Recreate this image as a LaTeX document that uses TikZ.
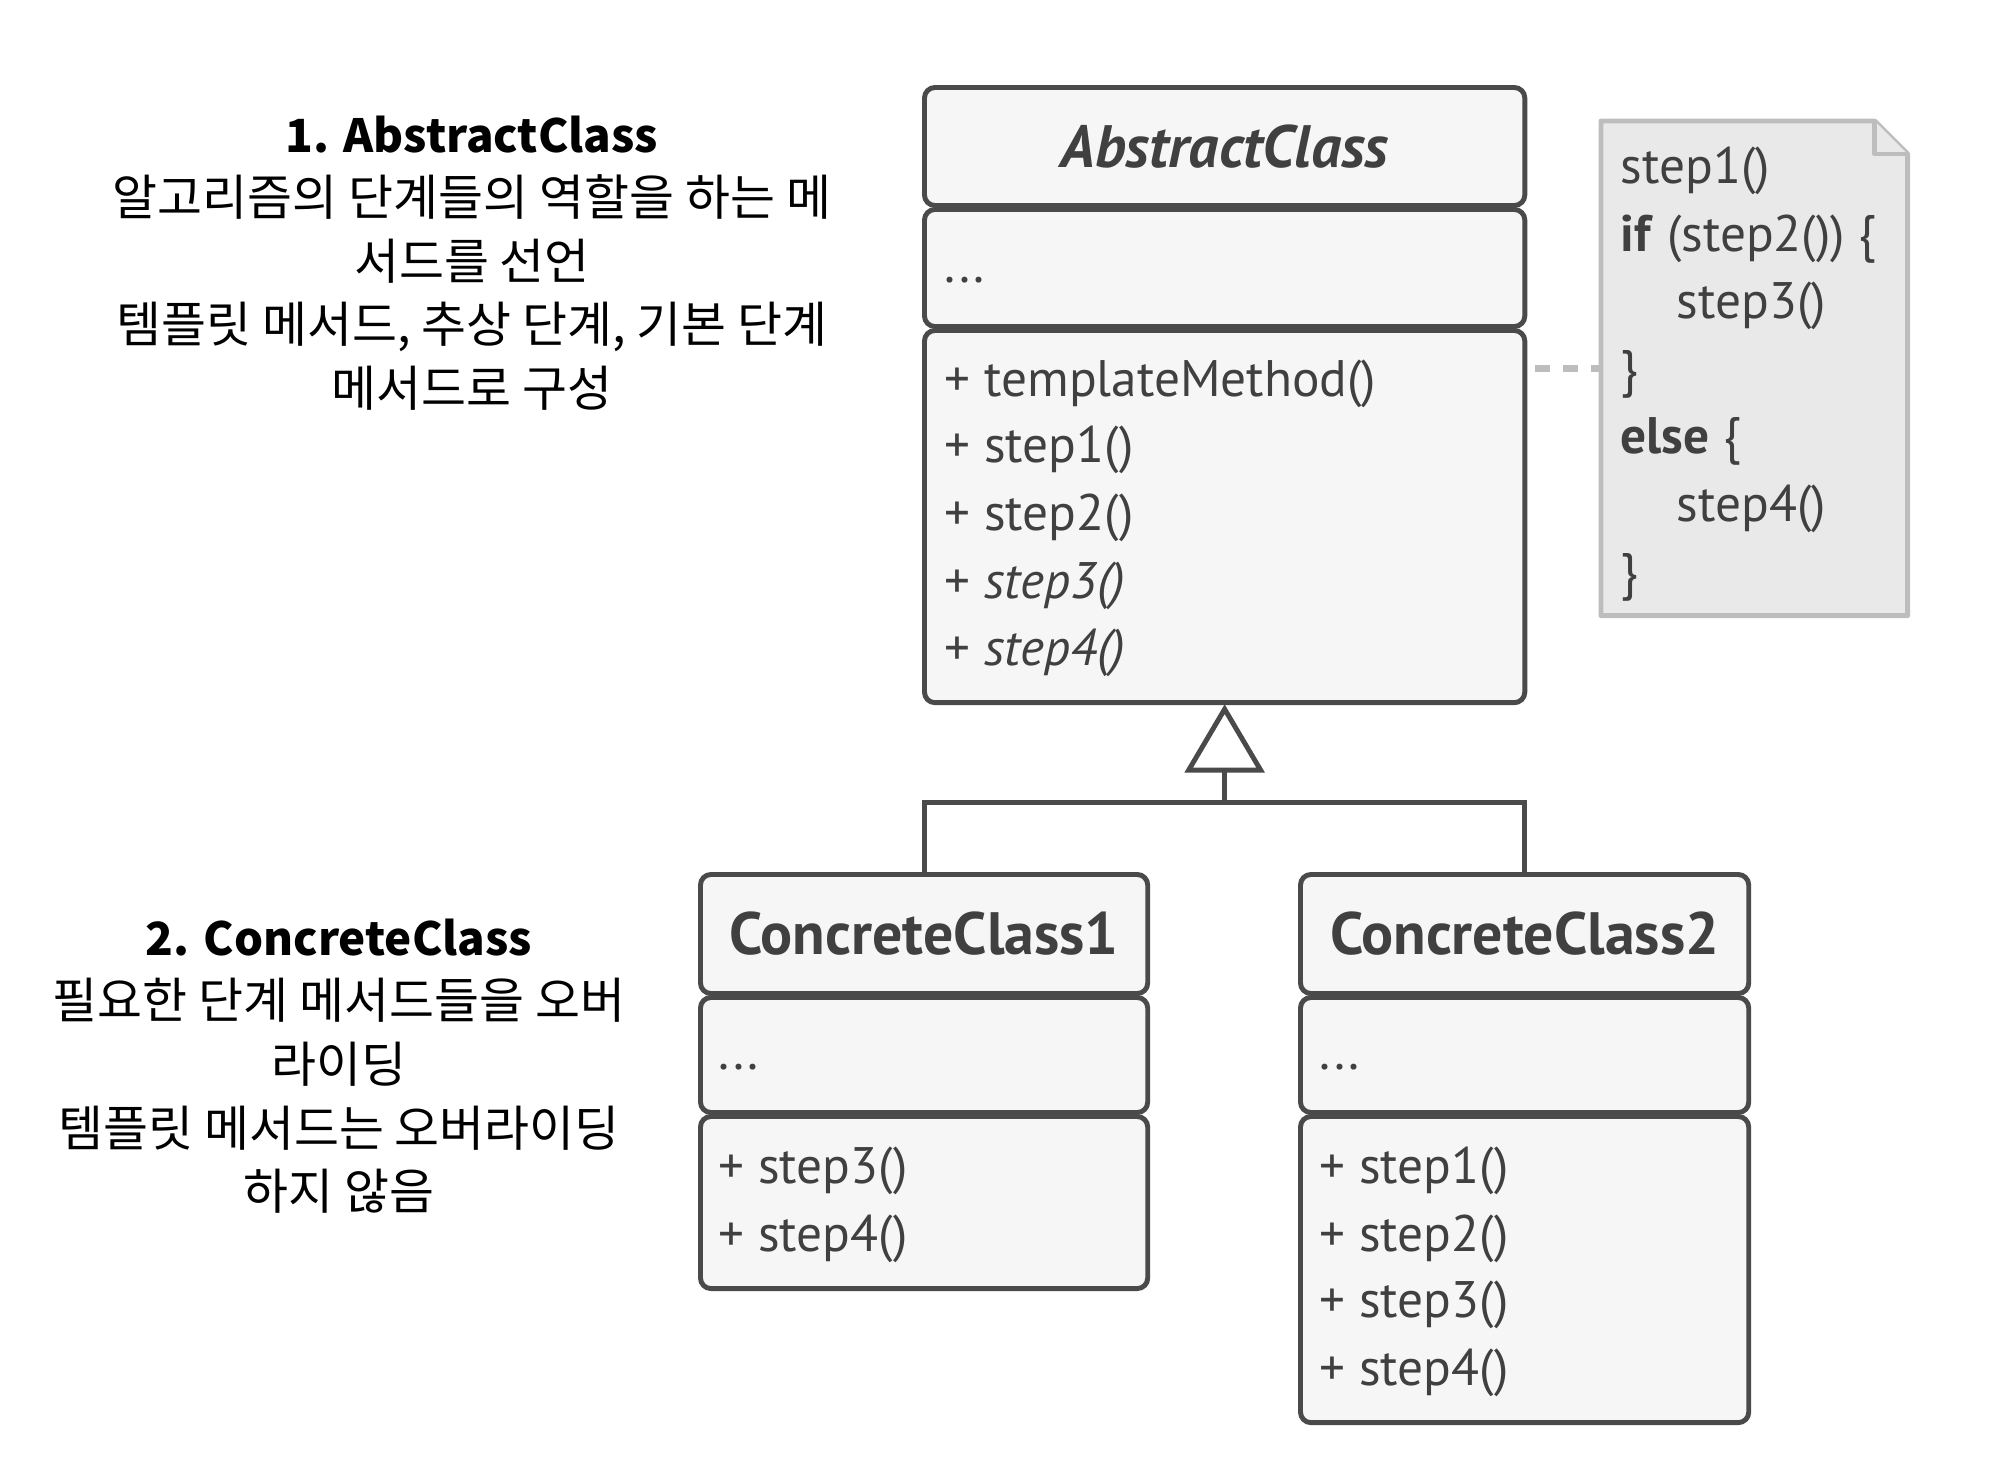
\documentclass[tikz,border=0pt]{standalone}
\usepackage{fontspec}
\setmainfont{PT Sans}
\newfontfamily\krfont{Noto Sans CJK KR}
\usetikzlibrary{positioning, calc}

\definecolor{umlline}{HTML}{4A4A4A}
\definecolor{umlfill}{HTML}{F6F6F6}
\definecolor{umltext}{HTML}{404040}
\definecolor{notefill}{HTML}{E9E9E9}
\definecolor{noteline}{HTML}{BDBDBD}

\newcommand{\deschead}{\fontsize{13}{18.1}\selectfont\bfseries}

\tikzset{
  compart/.style={draw=umlline, fill=umlfill, line width=1.4pt, rounded corners=3pt,
    anchor=north west, inner sep=0pt, text=umltext},
  clsname/.style={font=\fontsize{17}{20}\selectfont\bfseries},
  member/.style={anchor=west, inner sep=0pt, text=umltext, font=\fontsize{14.6}{19}\selectfont},
  notebox/.style={draw=noteline, fill=notefill, line width=1.4pt, line join=round},
  notelink/.style={draw=noteline, line width=1.8pt, dash pattern=on 0.15cm off 0.13cm},
  link/.style={draw=umlline, line width=1.4pt},
  inherit/.style={draw=umlline, fill=white, line width=1.4pt, line join=miter},
  desc/.style={align=center, inner sep=0pt, font=\krfont\fontsize{13.9}{18.1}\selectfont}
}

\begin{document}
\begin{tikzpicture}[x=0.01cm, y=-0.01cm]
\useasboundingbox (0,0) rectangle (2000,1472);

% AbstractClass
\node[compart, clsname, minimum width=6cm, minimum height=1.18cm] (ahead) at (922,85)
  {\textit{AbstractClass}};
\node[compart, minimum width=6cm, minimum height=1.17cm] (aattr) at (922,207) {};
\node[compart, minimum width=6cm, minimum height=3.72cm] (aops) at (922,328) {};
\node[member] (adots) at (944,280) {...};
\foreach \yy/\txt in {384/{+ templateMethod()}, 450/{+ step1()}, 518/{+ step2()},
                      586/{+ \textit{step3()}}, 653/{+ \textit{step4()}}}
  \node[member] at (944,\yy) {\txt};

% note
\node[minimum width=3.05cm, minimum height=4.93cm, anchor=north west, inner sep=0pt] (note) at (1601,121) {};
\draw[notebox] (note.north west) -- ([xshift=-0.33cm]note.north east)
  -- ([yshift=-0.33cm]note.north east) -- (note.south east) -- (note.south west) -- cycle;
\draw[notebox] ([xshift=-0.33cm]note.north east) |- ([yshift=-0.33cm]note.north east);
\foreach \xx/\yy/\txt in {1620/171/{step1()}, 1620/239/{\textbf{if} (step2()) \{},
                          1676/306/{step3()}, 1620/374/{\}}, 1620/441/{\textbf{else} \{},
                          1676/509/{step4()}, 1620/577/{\}}}
  \node[member] at (\xx,\yy) {\txt};
\draw[notelink] ([xshift=0.08cm]note.west -| aops.east) -- (note.west);

% ConcreteClass1
\node[compart, clsname, minimum width=4.47cm, minimum height=1.19cm] (c1head) at (698,872)
  {ConcreteClass1};
\node[compart, minimum width=4.47cm, minimum height=1.15cm] (c1attr) at (698,995) {};
\node[compart, minimum width=4.47cm, minimum height=1.72cm] (c1ops) at (698,1114) {};
\node[member] (c1dots) at (718,1067) {...};
\foreach \yy/\txt in {1171/{+ step3()}, 1239/{+ step4()}}
  \node[member] at (718,\yy) {\txt};

% ConcreteClass2
\node[compart, clsname, minimum width=4.48cm, minimum height=1.19cm] (c2head) at (1298,872)
  {ConcreteClass2};
\node[compart, minimum width=4.48cm, minimum height=1.15cm] (c2attr) at (1298,995) {};
\node[compart, minimum width=4.48cm, minimum height=3.06cm] (c2ops) at (1298,1114) {};
\node[member] (c2dots) at (1319,1067) {...};
\foreach \yy/\txt in {1171/{+ step1()}, 1239/{+ step2()}, 1305/{+ step3()}, 1373/{+ step4()}}
  \node[member] at (1319,\yy) {\txt};

% inheritance
\coordinate (tritop) at ([yshift=-0.04cm]aops.south);
\coordinate (tribase) at ($(tritop)+(0,61)$);
\coordinate (join) at ($(tritop)+(0,93)$);
\draw[link] (tribase) -- (join);
\draw[link] (c1head.north) |- (join) -| (c2head.north);
\draw[inherit] (tritop) -- ++(-36,61) -- ++(72,0) -- cycle;

% descriptions
\node[desc] (d1) at (472,263) {{\deschead 1. AbstractClass}\\
  알고리즘의 단계들의 역할을 하는 메\\ 서드를 선언\\
  템플릿 메서드, 추상 단계, 기본 단계\\ 메서드로 구성};
\node[desc] (d2) at (339,1066) {{\deschead 2. ConcreteClass}\\
  필요한 단계 메서드들을 오버\\ 라이딩\\
  템플릿 메서드는 오버라이딩\\ 하지 않음};
\end{tikzpicture}
\end{document}
